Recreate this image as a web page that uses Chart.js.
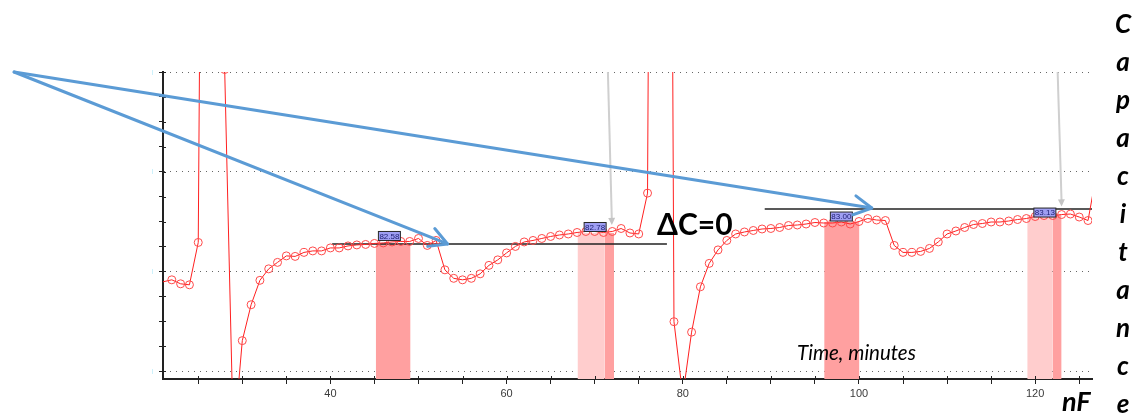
<!DOCTYPE html>
<html>
<head>
<meta charset="utf-8">
<title>Capacitance over time</title>
<script src="https://cdn.jsdelivr.net/npm/chart.js@4.4.1/dist/chart.umd.min.js"></script>
<style>
  html, body { margin: 0; padding: 0; background: #fff; }
  #wrap { width: 1137px; height: 417px; position: relative; }
</style>
</head>
<body>
<div id="wrap"><canvas id="capChart"></canvas></div>
<script>
// time axis (minutes) and measured capacitance (nF)
const minutes = [
  21, 22, 23, 24, 25, 26, 27, 28, 29, 30,
  31, 32, 33, 34, 35, 36, 37, 38, 39, 40,
  41, 42, 43, 44, 45, 46, 47, 48, 49, 50,
  51, 52, 53, 54, 55, 56, 57, 58, 59, 60,
  61, 62, 63, 64, 65, 66, 67, 68, 69, 70,
  71, 72, 73, 74, 75, 76, 77, 78, 79, 80,
  81, 82, 83, 84, 85, 86, 87, 88, 89, 90,
  91, 92, 93, 94, 95, 96, 97, 98, 99, 100,
  101, 102, 103, 104, 105, 106, 107, 108, 109, 110,
  111, 112, 113, 114, 115, 116, 117, 118, 119, 120,
  121, 122, 123, 124, 125, 126, 127
];
const capacitance = [
  81.79, 81.83, 81.75, 81.73, 82.58, 107.6, 107.6, 86.05, 78.55, 80.61,
  81.33, 81.82, 82.05, 82.18, 82.31, 82.30, 82.38, 82.41, 82.41, 82.47,
  82.47, 82.51, 82.53, 82.54, 82.56, 82.57, 82.59, 82.60, 82.60, 82.66,
  82.52, 82.62, 82.03, 81.86, 81.83, 81.86, 81.95, 82.12, 82.23, 82.37,
  82.50, 82.59, 82.62, 82.66, 82.70, 82.73, 82.75, 82.78, 82.80, 82.80,
  82.78, 82.80, 82.86, 82.77, 82.75, 83.57, 117.0, 117.0, 80.99, 79.50,
  80.78, 81.69, 82.16, 82.43, 82.62, 82.75, 82.79, 82.82, 82.85, 82.86,
  82.88, 82.92, 82.93, 82.95, 82.98, 82.97, 82.97, 82.99, 82.95, 83.00,
  83.06, 83.03, 83.02, 82.52, 82.38, 82.38, 82.40, 82.46, 82.59, 82.75,
  82.81, 82.88, 82.94, 82.96, 82.99, 82.99, 83.01, 83.04, 83.06, 83.10,
  83.12, 83.12, 83.14, 83.15, 83.09, 83.02, 84.0
];

// axis ticks
const xTickValues = [25, 30, 35, 40, 45, 50, 55, 60, 65, 70, 75, 80, 85, 90, 95, 100, 105, 110, 115, 120, 125];
const xLabelValues = [40, 60, 80, 100, 120];
const yTickValues = [80, 80.5, 81, 81.5, 82, 82.5, 83, 83.5, 84, 84.5, 85, 85.5, 86];
const yGridValues = [80, 82, 84, 86];

// averaging windows (shaded)
const bandStart = [45.15, 68.05, 71.1, 96.05, 119.1, 121.95];
const bandEnd   = [49.1, 71.1, 72.2, 100.05, 121.95, 123.0];
const bandTop   = [82.56, 82.77, 82.77, 82.99, 83.13, 83.13];
const bandShade = ['dark', 'light', 'dark', 'dark', 'light', 'dark'];

// baseline levels
const refStart = [40.2, 89.3];
const refEnd   = [78.2, 126.45];
const refLevel = [82.55, 83.25];

// cursor readouts
const markerMinutes = [46.7, 70.05, 98.0, 121.1];
const markerValues  = [82.71, 82.89, 83.10, 83.18];
const markerText    = ['82.58', '82.78', '83.00', '83.13'];

// gray cursor pointers
const pointerFromMinutes = [71.5, 122.55];
const pointerToMinutes   = [71.95, 123.0];
const pointerToValues    = [82.93, 83.30];

// blue callout arrows
const calloutOrigin = [4.1, 86.0];
const calloutTipMinutes = [53.3, 101.45];
const calloutTipValues  = [82.55, 83.27];

const xMin = 21.0, xMax = 126.45, yMin = 79.84, yMax = 86;

const shadeColors = { dark: 'rgb(255,160,160)', light: 'rgb(255,205,205)' };

function arrowHead(ctx, x0, y0, x1, y1, len, spread, filled) {
  const a = Math.atan2(y1 - y0, x1 - x0);
  ctx.beginPath();
  ctx.moveTo(x1 - len * Math.cos(a - spread), y1 - len * Math.sin(a - spread));
  ctx.lineTo(x1, y1);
  ctx.lineTo(x1 - len * Math.cos(a + spread), y1 - len * Math.sin(a + spread));
  if (filled) { ctx.closePath(); ctx.fill(); } else { ctx.stroke(); }
}

const overlay = {
  id: 'overlay',
  afterDraw(chart) {
    const { ctx, chartArea, scales: { x, y } } = chart;
    const px = t => x.getPixelForValue(t);
    const py = v => y.getPixelForValue(v);
    ctx.save();

    // inner half of the tick marks (ticks cross the axes)
    ctx.strokeStyle = '#222';
    ctx.lineWidth = 1;
    ctx.beginPath();
    yTickValues.forEach(v => {
      const yy = Math.round(py(v)) + 0.5;
      ctx.moveTo(chartArea.left, yy);
      ctx.lineTo(chartArea.left + 3, yy);
    });
    xTickValues.forEach(t => {
      const xx = Math.round(px(t)) + 0.5;
      ctx.moveTo(xx, chartArea.bottom);
      ctx.lineTo(xx, chartArea.bottom - 3);
    });
    ctx.stroke();

    // gray pointers
    ctx.save();
    ctx.beginPath();
    ctx.rect(chartArea.left, chartArea.top, chartArea.right - chartArea.left, chartArea.bottom - chartArea.top);
    ctx.clip();
    ctx.strokeStyle = '#cfcfcf';
    ctx.fillStyle = '#c4c4c4';
    ctx.lineWidth = 2;
    pointerFromMinutes.forEach((t0, i) => {
      const x0 = px(t0), y0 = chartArea.top;
      const x1 = px(pointerToMinutes[i]), y1 = py(pointerToValues[i]);
      ctx.beginPath();
      ctx.moveTo(x0, y0);
      ctx.lineTo(x1, y1 - 4);
      ctx.stroke();
      arrowHead(ctx, x0, y0, x1, y1, 8, 0.45, true);
    });
    ctx.restore();

    // readout boxes
    ctx.font = '8px "Liberation Sans", Arial, sans-serif';
    ctx.textAlign = 'center';
    ctx.textBaseline = 'middle';
    markerMinutes.forEach((t, i) => {
      const cx = px(t), cy = py(markerValues[i]);
      ctx.fillStyle = '#9f9ff3';
      ctx.fillRect(cx - 11, cy - 4.5, 22, 9);
      ctx.strokeStyle = '#2a2a2a';
      ctx.lineWidth = 1;
      ctx.strokeRect(cx - 11, cy - 4.5, 22, 9);
      ctx.fillStyle = '#1c1c70';
      ctx.fillText(markerText[i], cx, cy + 0.5);
    });

    // blue callout arrows
    ctx.strokeStyle = '#5b9bd5';
    ctx.lineWidth = 3;
    ctx.lineCap = 'round';
    ctx.lineJoin = 'round';
    const ox = px(calloutOrigin[0]), oy = py(calloutOrigin[1]);
    calloutTipMinutes.forEach((t, i) => {
      const tx = px(t), ty = py(calloutTipValues[i]);
      ctx.beginPath();
      ctx.moveTo(ox, oy);
      ctx.lineTo(tx, ty);
      ctx.stroke();
      arrowHead(ctx, ox, oy, tx, ty, 20, 0.5, false);
    });

    // text
    ctx.fillStyle = '#000';
    ctx.textAlign = 'left';
    ctx.textBaseline = 'alphabetic';
    ctx.font = 'bold 30px Lato, "Open Sans", sans-serif';
    ctx.fillText('ΔC=0', 657, 235);
    ctx.font = 'italic 20.5px Lato, "Open Sans", sans-serif';
    ctx.fillText('Time, minutes', 797, 360);
    ctx.font = 'bold italic 27px Lato, "Open Sans", sans-serif';
    ctx.fillText('nF', 1062, 411);
    ctx.textAlign = 'center';
    ctx.font = 'bold italic 26px Lato, "Open Sans", sans-serif';
    Array.from('Capacitance').forEach((ch, i) => {
      ctx.fillText(ch, 1123, 33 + 38 * i);
    });
    ctx.restore();
  }
};

const seriesData = minutes.map((t, i) => ({ x: t, y: capacitance[i] }));

const bandSets = bandStart.map((s, i) => ({
  data: [{ x: s, y: bandTop[i] }, { x: bandEnd[i], y: bandTop[i] }],
  fill: 'start',
  backgroundColor: shadeColors[bandShade[i]],
  borderWidth: 0,
  pointRadius: 0,
  clip: 0,
  order: 10
}));

const refSets = refStart.map((s, i) => ({
  data: [{ x: s, y: refLevel[i] }, { x: refEnd[i], y: refLevel[i] }],
  borderColor: '#222',
  borderWidth: 1.5,
  pointRadius: 0,
  fill: false,
  clip: 0,
  order: 5
}));

const ctx = document.getElementById('capChart').getContext('2d');
new Chart(ctx, {
  type: 'line',
  data: {
    datasets: [{
      label: 'Capacitance',
      data: seriesData,
      borderColor: '#ff2020',
      borderWidth: 1,
      pointRadius: c => (c.raw && c.raw.x <= xMin) ? 0 : 4,
      pointBorderColor: '#ff4a4a',
      pointBackgroundColor: 'rgba(0,0,0,0)',
      pointBorderWidth: 1,
      fill: false,
      tension: 0,
      clip: 0,
      order: 0
    }, ...refSets, ...bandSets]
  },
  options: {
    responsive: true,
    maintainAspectRatio: false,
    devicePixelRatio: 1,
    animation: false,
    events: [],
    layout: { padding: { left: 0, top: 72, right: 45, bottom: 0 } },
    plugins: {
      legend: { display: false },
      tooltip: { enabled: false }
    },
    scales: {
      x: {
        type: 'linear',
        min: xMin,
        max: xMax,
        afterFit: s => { s.height = 38; },
        afterBuildTicks: s => { s.ticks = xTickValues.map(v => ({ value: v })); },
        grid: { drawOnChartArea: false, tickLength: 5, tickColor: '#222' },
        border: { color: '#222', width: 2 },
        ticks: {
          autoSkip: false,
          maxRotation: 0,
          padding: 3,
          color: '#3a3a3a',
          font: { family: '"Liberation Sans", Arial, sans-serif', size: 11 },
          callback: v => xLabelValues.includes(v) ? String(v) : ''
        }
      },
      y: {
        type: 'linear',
        min: yMin,
        max: yMax,
        afterFit: s => { s.width = 163; },
        afterBuildTicks: s => { s.ticks = yTickValues.map(v => ({ value: v })); },
        grid: {
          color: c => (c.tick && yGridValues.includes(c.tick.value)) ? '#666' : 'rgba(0,0,0,0)',
          tickColor: '#222',
          tickLength: 4
        },
        border: { color: '#222', width: 2, dash: [1, 5] },
        ticks: {
          autoSkip: false,
          padding: 6,
          color: '#a6e6f7',
          font: { size: 6 },
          callback: v => yGridValues.includes(v) ? '|' : ''
        }
      }
    }
  },
  plugins: [overlay]
});
</script>
</body>
</html>
